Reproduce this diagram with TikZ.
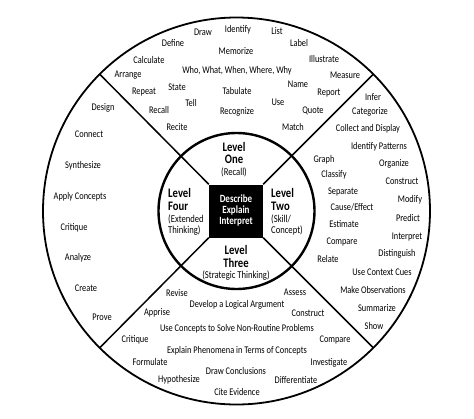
\documentclass[tikz,border=0pt]{standalone}
\usepackage{fontspec}
\setmainfont[FakeStretch=0.82]{Carlito}
\begin{document}
\begin{tikzpicture}[x=1pt,y=-1pt,
  w/.style={font=\fontsize{10.2}{11}\selectfont, inner sep=0pt},
  lvl/.style={font=\bfseries\fontsize{13}{14}\selectfont, inner sep=0pt},
  sub/.style={font=\fontsize{10.5}{11}\selectfont, inner sep=0pt},
  ring/.style={line width=1.8pt},
  spoke/.style={line width=1.5pt}]
\useasboundingbox (0,0) rectangle (474,418);
\coordinate (c) at (236.5,211);
\draw[ring] (c) circle[radius=193.5pt];
\draw[line width=2.4pt] (c) circle[radius=78pt];
\node[fill=black, minimum width=54pt, minimum height=53pt, inner sep=0pt, align=center,
      text=white, font=\bfseries\fontsize{11}{11}\selectfont] (sq) at (236,211)
      {Describe\\Explain\\Interpret};
\coordinate (nw) at (99.7,74.2);
\coordinate (ne) at (373.3,74.2);
\coordinate (se) at (373.3,347.8);
\coordinate (sw) at (99.7,347.8);
\draw[spoke] (sq.north west) -- (nw);
\draw[spoke] (sq.north east) -- (ne);
\draw[spoke] (sq.south east) -- (se);
\draw[spoke] (sq.south west) -- (sw);
% centre labels
\node[lvl] (l1a) at (234,147) {Level};
\node[lvl] (l1b) at (234,159.5) {One};
\node[sub] (l1c) at (234,172) {(Recall)};
\node[lvl,anchor=west] (l4a) at (168,193) {Level};
\node[lvl,anchor=west] (l4b) at (168,206) {Four};
\node[sub,anchor=west] (l4c) at (168,219) {(Extended};
\node[sub,anchor=west] (l4d) at (168,231) {Thinking)};
\node[lvl,anchor=west] (l2a) at (271,193) {Level};
\node[lvl,anchor=west] (l2b) at (271,206) {Two};
\node[sub,anchor=west] (l2c) at (271,219) {(Skill/};
\node[sub,anchor=west] (l2d) at (271,231) {Concept)};
\node[lvl] (l3a) at (236,250) {Level};
\node[lvl] (l3b) at (236,263) {Three};
\node[sub] (l3c) at (236,276) {(Strategic Thinking)};
% top sector
\node[w] (t1) at (203,32) {Draw};
\node[w] (t2) at (238,30) {Identify};
\node[w] (t3) at (277,31) {List};
\node[w] (t4) at (173,43) {Define};
\node[w] (t5) at (299,43) {Label};
\node[w] (t6) at (236,51) {Memorize};
\node[w] (t7) at (149,60) {Calculate};
\node[w] (t8) at (324,59) {Illustrate};
\node[w] (t9) at (237,71) {Who, What, When, Where, Why};
\node[w] (t10) at (128,75) {Arrange};
\node[w] (t11) at (345,75) {Measure};
\node[w] (t12) at (177,87) {State};
\node[w] (t13) at (298,84) {Name};
\node[w] (t14) at (144,92) {Repeat};
\node[w] (t15) at (237,91) {Tabulate};
\node[w] (t16) at (329,93) {Report};
\node[w] (t17) at (191,103) {Tell};
\node[w] (t18) at (278,102) {Use};
\node[w] (t19) at (159,110) {Recall};
\node[w] (t20) at (237,112) {Recognize};
\node[w] (t21) at (313,111) {Quote};
\node[w] (t22) at (177,127) {Recite};
\node[w] (t23) at (293,127) {Match};
% right sector
\node[w] (r1) at (373,97) {Infer};
\node[w] (r2) at (370,112) {Categorize};
\node[w] (r3) at (368,129) {Collect and Display};
\node[w] (r4) at (379,147) {Identify Patterns};
\node[w] (r5) at (324,160) {Graph};
\node[w] (r6) at (394,164) {Organize};
\node[w] (r7) at (334,175) {Classify};
\node[w] (r8) at (402,181) {Construct};
\node[w] (r9) at (343,192) {Separate};
\node[w] (r10) at (410,200) {Modify};
\node[w] (r11) at (352,207) {Cause/Effect};
\node[w] (r12) at (408,218) {Predict};
\node[w] (r13) at (344,224) {Estimate};
\node[w] (r14) at (407,237) {Interpret};
\node[w] (r15) at (342,242) {Compare};
\node[w] (r16) at (397,254) {Distinguish};
\node[w] (r17) at (328,259) {Relate};
\node[w] (r18) at (382,272) {Use Context Cues};
\node[w] (r19) at (373,290) {Make Observations};
\node[w] (r20) at (377,308) {Summarize};
\node[w] (r21) at (374,326) {Show};
% bottom sector
\node[w] (b1) at (177,293) {Revise};
\node[w] (b2) at (295,292) {Assess};
\node[w] (b3) at (237,305) {Develop a Logical Argument};
\node[w] (b4) at (157,313) {Apprise};
\node[w] (b5) at (308,313) {Construct};
\node[w] (b6) at (237,329) {Use Concepts to Solve Non-Routine Problems};
\node[w] (b7) at (135,340) {Critique};
\node[w] (b8) at (335,340) {Compare};
\node[w] (b9) at (237,351) {Explain Phenomena in Terms of Concepts};
\node[w] (b10) at (150,362) {Formulate};
\node[w] (b11) at (329,363) {Investigate};
\node[w] (b12) at (236,371) {Draw Conclusions};
\node[w] (b13) at (179,380) {Hypothesize};
\node[w] (b14) at (296,380) {Differentiate};
\node[w] (b15) at (237,392) {Cite Evidence};
% left sector
\node[w] (f1) at (103,108) {Design};
\node[w] (f2) at (89,134) {Connect};
\node[w] (f3) at (83,166) {Synthesize};
\node[w] (f4) at (80,197) {Apply Concepts};
\node[w] (f5) at (74,228) {Critique};
\node[w] (f6) at (78,258) {Analyze};
\node[w] (f7) at (86,288) {Create};
\node[w] (f8) at (102,317) {Prove};
\end{tikzpicture}
\end{document}
